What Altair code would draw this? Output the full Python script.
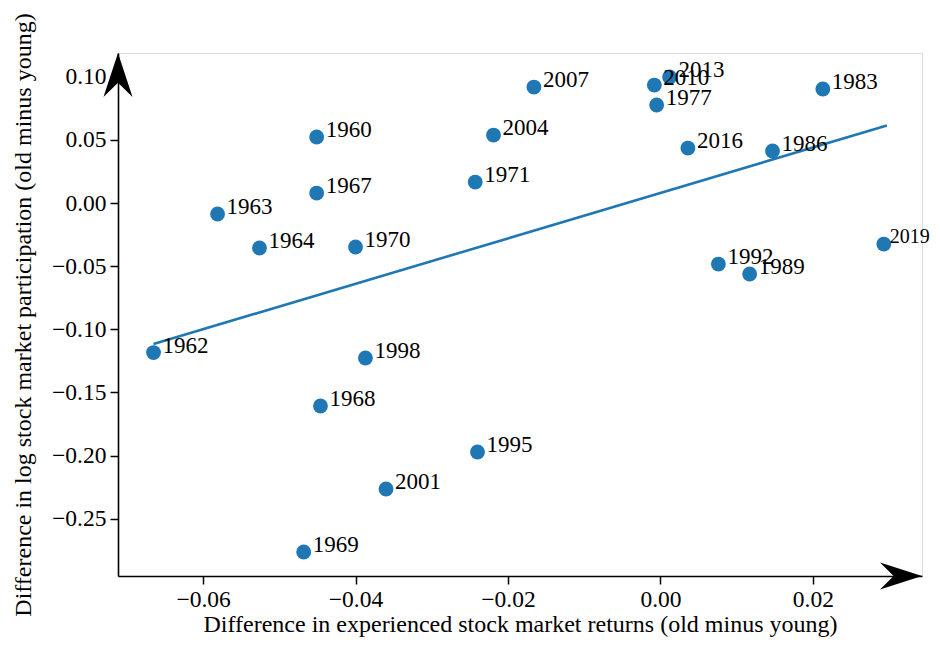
import altair as alt
import pandas as pd

# ---- data ----
years = [1960, 1962, 1963, 1964, 1967, 1968, 1969, 1970, 1971, 1977,
         1983, 1986, 1989, 1992, 1995, 1998, 2001, 2004, 2007, 2010,
         2013, 2016, 2019]
x_vals = [-0.0451, -0.0665, -0.0581, -0.0526, -0.0451, -0.0446, -0.0468, -0.0400, -0.0243, -0.0005,
          0.0213, 0.0147, 0.0117, 0.0076, -0.0240, -0.0387, -0.0360, -0.0219, -0.0166, -0.0008,
          0.0012, 0.0036, 0.0293]
y_vals = [0.0523, -0.1184, -0.0087, -0.0356, 0.0079, -0.1607, -0.2763, -0.0348, 0.0166, 0.0776,
          0.0903, 0.0412, -0.0562, -0.0483, -0.1971, -0.1227, -0.2264, 0.0538, 0.0918, 0.0934,
          0.0998, 0.0435, -0.0325]

# fitted line end points
line_x = [-0.0665, 0.0297]
line_y = [-0.1116, 0.0614]

x_ticks = [-0.06, -0.04, -0.02, 0.00, 0.02]
y_ticks = [-0.25, -0.20, -0.15, -0.10, -0.05, 0.00, 0.05, 0.10]
x_domain = [-0.07116, 0.03431]
y_domain = [-0.2953, 0.1188]

x_title = "Difference in experienced stock market returns (old minus young)"
y_title = "Difference in log stock market participation (old minus young)"

FONT = "Liberation Serif"
BLUE = "#1f77b4"
W, H = 804, 523

pts = pd.DataFrame({"year": [str(y) for y in years], "x": x_vals, "y": y_vals})
line_df = pd.DataFrame({"x": line_x, "y": line_y})

xscale = alt.Scale(domain=x_domain, nice=False, zero=False)
yscale = alt.Scale(domain=y_domain, nice=False, zero=False)

xaxis = alt.Axis(values=x_ticks, format=".2f", grid=False, title=x_title,
                 tickSize=8, tickWidth=1.5, tickColor="black",
                 domainColor="black", domainWidth=1.6,
                 labelFont=FONT, labelFontSize=23.5, labelColor="black", labelPadding=3,
                 titleFont=FONT, titleFontSize=24, titleFontWeight="normal",
                 titleColor="black", titlePadding=2)
yaxis = alt.Axis(values=y_ticks, format=".2f", grid=False, title=y_title,
                 tickSize=8, tickWidth=1.5, tickColor="black",
                 domainColor="black", domainWidth=1.6,
                 labelFont=FONT, labelFontSize=23.5, labelColor="black", labelPadding=4,
                 titleFont=FONT, titleFontSize=24, titleFontWeight="normal",
                 titleColor="black", titlePadding=16)

line = alt.Chart(line_df).mark_line(color=BLUE, strokeWidth=2.6).encode(
    x=alt.X("x:Q", scale=xscale, axis=xaxis),
    y=alt.Y("y:Q", scale=yscale, axis=yaxis),
)

dots = alt.Chart(pts).mark_circle(color=BLUE, size=220, opacity=1).encode(
    x=alt.X("x:Q", scale=xscale),
    y=alt.Y("y:Q", scale=yscale),
)

text_enc = dict(
    x=alt.X("x:Q", scale=xscale),
    y=alt.Y("y:Q", scale=yscale),
    text="year:N",
)

labels = alt.Chart(pts).mark_text(align="left", baseline="alphabetic", dx=9, dy=0,
                                  font=FONT, fontSize=23, color="black").encode(
    **text_enc
).transform_filter(alt.datum.year != "2019")

# the right-most label sits at the page edge: slightly smaller so it is not cut
edge_label = alt.Chart(pts).mark_text(align="left", baseline="alphabetic", dx=6, dy=-1,
                                      font=FONT, fontSize=20, color="black").encode(
    **text_enc
).transform_filter(alt.datum.year == "2019")

arrow_df = pd.DataFrame({"a": [0]})
up_arrow = alt.Chart(arrow_df).mark_point(
    shape="M0,-1 L0.66,1 L0,0.35 L-0.66,1 Z", filled=True, color="black",
    opacity=1, size=44 * 44, strokeWidth=0,
).encode(x=alt.value(0), y=alt.value(22))

right_arrow = alt.Chart(arrow_df).mark_point(
    shape="M1,0 L-1,0.64 L-0.35,0 L-1,-0.64 Z", filled=True, color="black",
    opacity=1, size=42 * 42, strokeWidth=0,
).encode(x=alt.value(W - 21), y=alt.value(H))

chart = alt.layer(line, dots, labels, edge_label, up_arrow, right_arrow).properties(
    width=W, height=H,
    autosize=alt.AutoSizeParams(type="none"),
    padding={"left": 110, "top": 45, "right": 10, "bottom": 62},
).configure_view(stroke=None).configure(background="white")

chart.save("out.html", embed_options={"renderer": "svg", "actions": False})
